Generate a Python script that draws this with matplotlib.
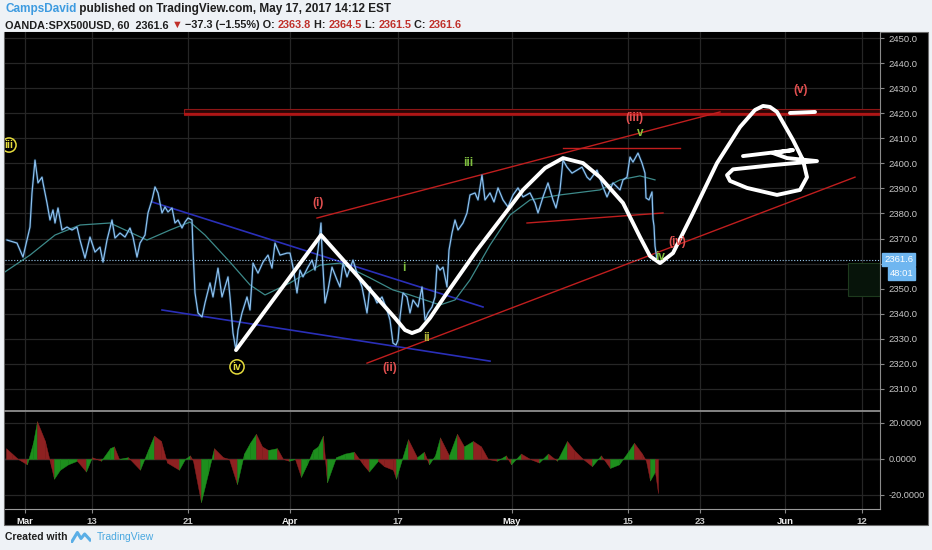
import matplotlib
matplotlib.use('Agg')
import matplotlib.pyplot as plt
from matplotlib.patches import Rectangle
import numpy as np

# ---------------- data ----------------
date_pos = [25, 92, 188, 290, 398, 512, 628, 700, 785, 862]
date_labels = ['Mar', '13', '21', 'Apr', '17', 'May', '15', '23', 'Jun', '12']
price_ticks = [2310, 2320, 2330, 2340, 2350, 2360, 2370, 2380, 2390, 2400, 2410, 2420, 2430, 2440, 2450]

price_x = [7, 17, 23, 27, 30, 32, 35, 38, 42, 43, 47, 50, 53, 55, 58, 62, 67, 72, 77, 80, 85, 90, 95, 100, 103,
           107, 112, 115, 120, 125, 130, 133, 137, 140, 145, 148, 152, 155, 158, 162, 165, 168, 172, 175, 178,
           182, 185, 188, 192, 193, 195, 198, 202, 205, 210, 213, 218, 222, 225, 228, 230, 233, 236, 238, 242,
           247, 250, 252, 253, 258, 263, 268, 272, 275, 280, 287, 290, 293, 297, 300, 303, 308, 312, 315, 318,
           321, 322, 325, 328, 332, 337, 340, 343, 347, 353, 357, 362, 367, 370, 377, 382, 387, 390, 393, 396,
           398, 400, 403, 407, 410, 413, 418, 422, 425, 428, 432, 435, 437, 440, 443, 447, 449, 452, 455, 458,
           463, 467, 470, 475, 478, 482, 485, 490, 494, 498, 503, 508, 513, 518, 523, 530, 535, 538, 543, 548,
           553, 556, 560, 563, 567, 572, 577, 582, 587, 590, 597, 603, 607, 613, 620, 623, 627, 630, 633, 638,
           642, 645, 646, 649, 652, 653, 654, 655, 657]
price_y = [2369.4, 2368.2, 2362.6, 2369.4, 2374.6, 2388.2, 2401.3, 2392.2, 2394.5, 2392.2, 2384.2, 2377.4, 2381.4,
           2376.2, 2382.2, 2373.4, 2374.6, 2373.4, 2374.6, 2369.4, 2362.2, 2370.6, 2364.6, 2366.6, 2360.6,
           2369.4, 2377.4, 2370.2, 2372.2, 2370.6, 2374.2, 2370.6, 2362.6, 2368.2, 2371.4, 2380.2, 2385.4,
           2390.6, 2388.2, 2380.2, 2382.6, 2380.6, 2382.2, 2376.2, 2377.4, 2374.2, 2376.6, 2378.2, 2377.4,
           2365.4, 2348.3, 2340.3, 2338.7, 2344.3, 2352.3, 2346.7, 2358.2, 2346.7, 2350.7, 2354.7, 2346.7,
           2332.3, 2325.5, 2333.5, 2340.3, 2346.7, 2341.5, 2353.5, 2360.2, 2356.2, 2360.6, 2363.4, 2358.2,
           2368.2, 2363.4, 2364.2, 2364.2, 2358.6, 2348.3, 2357.4, 2354.7, 2358.6, 2361.4, 2357.4, 2365.4,
           2376.2, 2365.4, 2344.3, 2349.5, 2358.6, 2353.5, 2350.7, 2360.2, 2354.7, 2361.4, 2356.2, 2350.7,
           2340.3, 2350.7, 2344.3, 2346.7, 2341.5, 2337.5, 2328.3, 2327.5, 2329.5, 2338.7, 2348.3, 2346.7,
           2340.3, 2345.5, 2342.7, 2350.7, 2337.5, 2340.3, 2342.7, 2346.7, 2359.4, 2357.4, 2358.6, 2350.7,
           2365.4, 2372.2, 2377.4, 2373.4, 2376.2, 2380.2, 2387.4, 2388.2, 2385.4, 2395.3, 2385.4, 2388.2,
           2384.6, 2390.2, 2385.4, 2382.6, 2387.4, 2390.2, 2386.6, 2388.2, 2384.2, 2380.2, 2386.6, 2392.2,
           2385.4, 2382.2, 2389.4, 2401.3, 2398.5, 2396.1, 2397.3, 2398.5, 2394.5, 2393.4, 2397.3, 2390.6,
           2386.6, 2392.2, 2389.4, 2393.4, 2394.5, 2402.5, 2400.5, 2404.1, 2400.1, 2396.1, 2386.2, 2385.4,
           2388.6, 2377.8, 2375.0, 2367.0, 2361.6]

ma_x = [5, 30, 55, 80, 110, 147, 170, 190, 205, 230, 250, 265, 290, 320, 340, 370, 393, 410, 440, 455, 470, 490,
        510, 530, 560, 600, 620, 640, 655]
ma_y = [2356.7, 2363.4, 2371.4, 2375.4, 2376.2, 2369.4, 2373.4, 2376.6, 2371.4, 2360.6, 2351.5, 2347.5, 2352.3,
        2359.4, 2360.2, 2354.3, 2349.5, 2347.5, 2343.5, 2345.5, 2353.5, 2367.4, 2379.4, 2385.4, 2387.4, 2389.4,
        2393.4, 2395.0, 2393.4]

last_price = 2361.6

# trend lines: (x0, p0, x1, p1)
blue_lines = [(152, 2384.6, 483, 2342.7), (162, 2341.5, 490, 2321.1)]
red_lines = [(317, 2378.2, 720, 2420.5), (367, 2320.3, 855, 2394.5),
             (563, 2406.1, 680, 2406.1), (527, 2376.2, 663, 2380.2)]
red_box = (184, 2419.3, 880, 2421.7)
green_box = (848, 2347.1, 880, 2360.2)

# hand drawn white projection path
sketch_x = [236, 321, 395, 405, 412, 420, 430, 447, 477, 523, 545, 563, 583, 600, 623, 640, 650, 660, 673, 693,
            717, 740, 755, 763, 770, 777, 793, 803, 807, 800, 777, 747, 730, 727, 733, 773, 817, 787, 773, 793, 743]
sketch_y = [2325.5, 2371.4, 2338.3, 2333.5, 2332.3, 2333.5, 2338.3, 2348.3, 2365.4, 2389.4, 2398.1, 2402.1,
            2400.1, 2394.5, 2384.2, 2370.6, 2363.0, 2360.2, 2364.2, 2380.2, 2400.1, 2414.5, 2421.3, 2422.9,
            2422.5, 2420.5, 2409.3, 2401.3, 2394.5, 2389.4, 2387.4, 2390.2, 2393.0, 2395.3, 2397.6, 2399.3,
            2400.9, 2402.1, 2404.1, 2405.3, 2402.9]
stroke_x = [790, 815]
stroke_y = [2420.1, 2420.5]

# wave labels
circle_labels = [('iii', 9, 2407.3), ('iv', 237, 2318.8)]
red_labels = [('(i)', 318, 2384.2), ('(ii)', 390, 2318.4), ('(iii)', 634, 2418.1), ('(iv)', 677, 2368.6),
              ('(v)', 801, 2429.3)]
green_labels = [('i', 404, 2358.2, '#7fbf3f'), ('ii', 427, 2330.3, '#b5b83a'), ('iii', 468, 2400.1, '#7fbf3f'),
                ('v', 640, 2412.2, '#8cc43c'), ('iv', 660, 2362.6, '#7fbf3f')]

# oscillator
osc_x = [6, 12, 18, 27, 33, 37, 45, 51, 54, 60, 68, 77, 86, 92, 101, 110, 114, 119, 128, 140, 148, 154, 161, 167,
         179, 185, 190, 193, 201, 208, 214, 223, 229, 237, 244, 250, 256, 262, 268, 277, 283, 289, 295, 301, 307,
         313, 318, 323, 327, 336, 345, 354, 363, 369, 378, 384, 393, 396, 402, 408, 417, 424, 429, 435, 440, 449,
         457, 464, 473, 481, 488, 497, 506, 511, 521, 530, 539, 548, 557, 567, 574, 583, 592, 601, 610, 619, 628,
         634, 642, 646, 650, 655, 658]
osc_v = [6, 3, 0, -3, 9, 21, 10, -4, -11, -6, -3, -1, -7, 1, -1, 6, 7, 0, 1, -6, 5, 13, 10, -2, -6, 0, 2, -1, -24,
         -8, 6, 1, 0, -14, 3, 9, 14, 7, 5, 6, 0, -1, 0, -10, -3, 5, 7, 13, -13, 1, 3, 4, -3, -7, -1, -4, -6, -11, 0,
         11, 1, 4, -3, 2, 12, 2, 14, 7, 10, 7, 0, -1, 2, -3, 3, 0, -2, 3, -1, 10, 5, 0, -4, 2, -5, -3, 4, 9, 3, -1,
         -12, -7, -19]
osc_ticks = [20, 0, -20]
osc_tick_labels = ['20.0000', '0.0000', '-20.0000']

# ---------------- figure ----------------
W, H = 932, 550
fig = plt.figure(figsize=(9.32, 5.5), dpi=100, facecolor='#eef2f6')


def fx(p):
    return p / W


def fy(p):
    return 1 - p / H


fig.patches.append(Rectangle((fx(4), fy(525)), fx(928) - fx(4), fy(32) - fy(525), transform=fig.transFigure,
                             facecolor='black', edgecolor='#6a6a6a', lw=0.8, zorder=-5))

FONT = ['Liberation Sans', 'DejaVu Sans']
grid_c = '#262626'
lab_c = '#c8c8c8'
XMIN, XMAX = 5, 880

ax = fig.add_axes([fx(5), fy(411), fx(880) - fx(5), fy(32) - fy(411)])
ax.set_facecolor('black')
ax.set_xlim(XMIN, XMAX)
ax.set_ylim(2301.2, 2452.4)
ax.set_xticks(date_pos)
ax.set_xticklabels([])
ax.tick_params(axis='x', length=0)
ax.set_yticks(price_ticks)
ax.set_yticklabels(['' if p == 2360 else '%.1f' % p for p in price_ticks], fontsize=6.8, color=lab_c,
                   family=FONT)
ax.yaxis.tick_right()
ax.tick_params(axis='y', length=3, color='#888888', pad=3)
ax.grid(True, color=grid_c, lw=0.9)
for s in ['top', 'left']:
    ax.spines[s].set_visible(False)
ax.spines['right'].set_color('#8a8a8a')
ax.spines['bottom'].set_color('#9a9a9a')
ax.spines['bottom'].set_linewidth(1.2)

# red resistance box
ax.add_patch(Rectangle((red_box[0], red_box[1]), red_box[2] - red_box[0], red_box[3] - red_box[1],
                       facecolor='#2a0606', edgecolor='#8e1616', lw=0.8, zorder=2))
ax.plot([red_box[0], red_box[2]], [red_box[1] + 0.3, red_box[1] + 0.3], color='#b01515', lw=1.6, zorder=2,
        solid_capstyle='butt')
# green box
ax.add_patch(Rectangle((green_box[0], green_box[1]), green_box[2] - green_box[0], green_box[3] - green_box[1],
                       facecolor='#07140a', edgecolor='#1d3a1d', lw=0.8, zorder=2))

for (x0, p0, x1, p1) in blue_lines:
    ax.plot([x0, x1], [p0, p1], color='#2a2fb8', lw=1.2, zorder=3)
for (x0, p0, x1, p1) in red_lines:
    ax.plot([x0, x1], [p0, p1], color='#c01e1e', lw=1.0, zorder=3)

ax.axhline(last_price, color='#9ccaf0', lw=0.8, ls=(0, (1, 1.6)), zorder=3)
ax.plot(ma_x, ma_y, color='#3d8a8a', lw=0.9, zorder=4)
ax.plot(price_x, price_y, color='#1f5a8a', lw=2.0, alpha=0.35, zorder=4)
ax.plot(price_x, price_y, color='#8cc0ee', lw=0.9, zorder=5)
ax.plot(sketch_x, sketch_y, color='white', lw=2.8, zorder=6, solid_joinstyle='round', solid_capstyle='round')
ax.plot(stroke_x, stroke_y, color='white', lw=2.8, zorder=6, solid_capstyle='round')

for t, x, y in circle_labels:
    ax.text(x, y, t, color='#e6dc3c', fontsize=7.5, fontweight='bold', ha='center', va='center', family=FONT,
            zorder=7, bbox=dict(boxstyle='circle,pad=0.2', fc='black', ec='#e6dc3c', lw=1.1), clip_on=True)
for t, x, y in red_labels:
    ax.text(x, y, t, color='#e25050', fontsize=8.5, fontweight='bold', ha='center', va='center', family=FONT,
            zorder=7)
for t, x, y, c in green_labels:
    ax.text(x, y, t, color=c, fontsize=8.5, fontweight='bold', ha='center', va='center', family=FONT, zorder=7)

# last price tags
ax.annotate('%.1f' % last_price, xy=(1.0, last_price), xycoords=('axes fraction', 'data'),
            xytext=(3, 0), textcoords='offset points', fontsize=6.8, color='white', family=FONT,
            va='center', ha='left', annotation_clip=False, zorder=10,
            bbox=dict(boxstyle='square,pad=0.2', fc='#6fb6f0', ec='#6fb6f0'))
ax.annotate('48:01', xy=(1.0, last_price - 5.6), xycoords=('axes fraction', 'data'),
            xytext=(7, 0), textcoords='offset points', fontsize=6.8, color='white', family=FONT,
            va='center', ha='left', annotation_clip=False, zorder=10,
            bbox=dict(boxstyle='square,pad=0.2', fc='#6fb6f0', ec='#6fb6f0'))

# ---------------- oscillator ----------------
ax2 = fig.add_axes([fx(5), fy(509), fx(880) - fx(5), fy(412) - fy(509)])
ax2.set_facecolor('black')
ax2.set_xlim(XMIN, XMAX)
ax2.set_ylim(-27.8, 26.1)
ax2.set_yticks(osc_ticks)
ax2.set_yticklabels(osc_tick_labels, fontsize=6.6, color=lab_c, family=FONT)
ax2.yaxis.tick_right()
ax2.tick_params(axis='y', length=3, color='#888888', pad=3)
ax2.set_xticks(date_pos)
ax2.set_xticklabels(date_labels, fontsize=6.8, color=lab_c, family=FONT, fontweight='bold')
for lbl in ax2.get_xticklabels():
    if lbl.get_text() in ('Mar', 'Apr', 'May', 'Jun'):
        lbl.set_color('#f0f0f0')
ax2.tick_params(axis='x', length=3, color='#888888', pad=3)
ax2.grid(True, color=grid_c, lw=0.9)
for s in ['top', 'left']:
    ax2.spines[s].set_visible(False)
ax2.spines['right'].set_color('#8a8a8a')
ax2.spines['bottom'].set_color('#9a9a9a')
ax2.axhline(0, color='#3a3a3a', lw=1.0, zorder=1)
for i in range(len(osc_x) - 1):
    c = '#1d8f1d' if osc_v[i + 1] >= osc_v[i] else '#8e2121'
    ax2.fill_between(osc_x[i:i + 2], 0, osc_v[i:i + 2], color=c, lw=0.3, zorder=3)

# ---------------- header / footer ----------------
fig.canvas.draw()
renderer = fig.canvas.get_renderer()


def seq_text(x_px, y_px, pieces, size):
    x = x_px
    for s, c in pieces:
        t = fig.text(fx(x), fy(y_px), s, color=c, fontsize=size, fontweight='bold', family=FONT,
                     va='center', ha='left')
        x += t.get_window_extent(renderer).width


dark = '#1e1e1e'
red = '#c0302a'
seq_text(5, 9, [('CampsDavid', '#3d9be0'), (' published on TradingView.com, May 17, 2017 14:12 EST', dark)], 8.5)
seq_text(5, 25, [('OANDA:SPX500USD, 60  2361.6 ', dark), ('\u25bc', red), (' \u221237.3 (\u22121.55%) O: ', dark),
                 ('2363.8', red), (' H: ', dark), ('2364.5', red), (' L: ', dark), ('2361.5', red),
                 (' C: ', dark), ('2361.6', red)], 7.8)

seq_text(5, 537, [('Created with', dark)], 7.5)
lax = fig.add_axes([fx(71), fy(543), fx(20), fy(531) - fy(543)])
lax.axis('off')
lax.plot([0, 3, 5, 7, 10], [0, 3, 1, 2.5, 0.5], color='#5aaee6', lw=2.2, solid_joinstyle='round')
lax.set_xlim(-0.5, 10.5)
lax.set_ylim(-0.5, 3.5)
fig.text(fx(97), fy(537), 'TradingView', color='#4aa8e0', fontsize=7.5, family=FONT, va='center', ha='left')

fig.savefig('out.png', dpi=100, facecolor=fig.get_facecolor())
